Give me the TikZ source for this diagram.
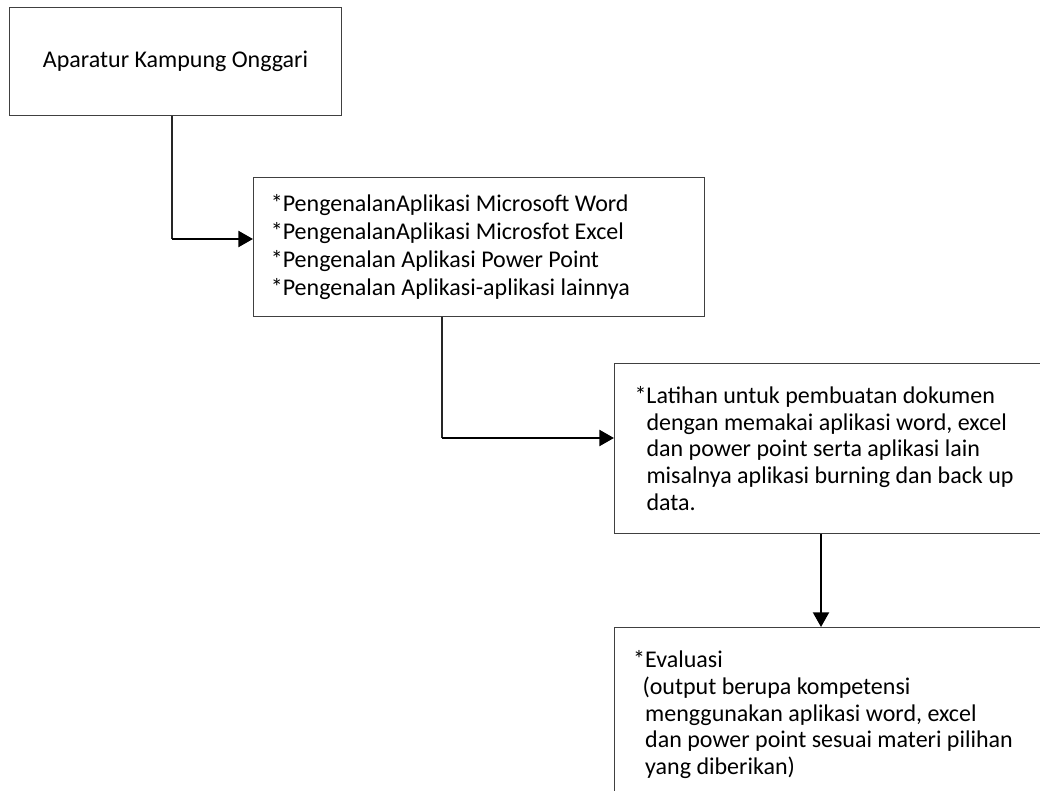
\documentclass[tikz,border=0pt]{standalone}
\usepackage{fontspec}
\setmainfont{Carlito}
\usepackage{tikz}
\usetikzlibrary{arrows.meta}

\tikzset{
    kotak/.style={draw=black!75, line width=0.8pt, anchor=north west, inner xsep=15pt, inner ysep=0pt, align=flush left},
    garis/.style={draw=black!85, line width=0.8pt},
    panah/.style={draw=black, line width=1.8pt, -{Triangle[length=11pt, width=12pt]}},
}

\begin{document}
\begin{tikzpicture}[x=0.75pt, y=-0.75pt, font=\fontsize{18}{20}\selectfont]
    \useasboundingbox (0, 0) rectangle (1040, 790);
    \node[kotak, align=center, minimum width=249pt, minimum height=81pt] (aparatur) at (9, 7) {Aparatur Kampung Onggari};
    \node[kotak, text width=312pt, minimum height=104pt, inner xsep=13pt, font=\fontsize{18}{21}\selectfont] (pengenalan) at (253, 177)
        {{}*PengenalanAplikasi Microsoft Word\\
         {}*PengenalanAplikasi Microsfot Excel\\
         {}*Pengenalan Aplikasi Power Point\\
         {}*Pengenalan Aplikasi-aplikasi lainnya};
    \node[kotak, text width=350pt, minimum height=127.5pt, inner xsep=15pt] (latihan) at (614, 363)
        {{}*Latihan untuk pembuatan dokumen\\
         \hspace*{9pt}dengan memakai aplikasi word, excel\\
         \hspace*{9pt}dan power point serta aplikasi lain\\
         \hspace*{9pt}misalnya aplikasi burning dan back up\\
         \hspace*{9pt}data.};
    \node[kotak, text width=350pt, minimum height=130.5pt, inner xsep=14pt] (evaluasi) at (614, 627)
        {{}*Evaluasi\\
         \hspace*{7pt}(output berupa kompetensi\\
         \hspace*{9pt}menggunakan aplikasi word, excel\\
         \hspace*{9pt}dan power point sesuai materi pilihan\\
         \hspace*{9pt}yang diberikan)};
    % connectors
    \coordinate (tekuk1) at (172, 239);
    \coordinate (tekuk2) at (442, 438);
    \coordinate (jalur3) at (821, 0);
    \draw[garis] (aparatur.south -| tekuk1) -- (tekuk1);
    \draw[panah] (tekuk1) -- (tekuk1 -| pengenalan.west);
    \draw[garis] (pengenalan.south -| tekuk2) -- (tekuk2);
    \draw[panah] (tekuk2) -- (tekuk2 -| latihan.west);
    \draw[panah, line width=1.5pt] (latihan.south -| jalur3) -- (evaluasi.north -| jalur3);
\end{tikzpicture}
\end{document}
